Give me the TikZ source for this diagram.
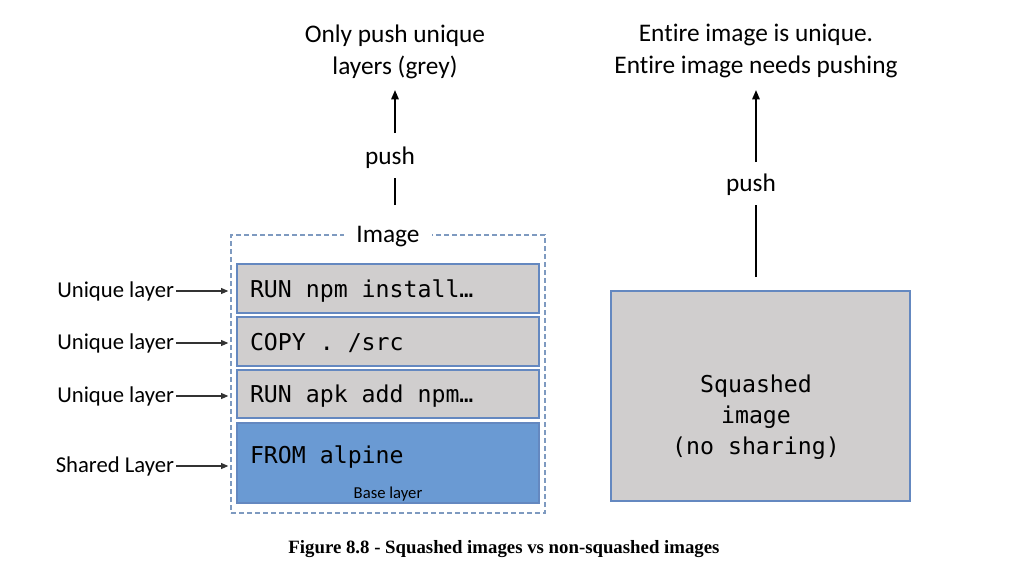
\documentclass[tikz,border=0pt]{standalone}
\usepackage{fontspec}
\setmainfont[Ligatures=NoCommon]{Carlito}
\newfontfamily\codefont[WordSpace={1,0,0}]{DejaVu Sans Mono}
\newfontfamily\capfont{Liberation Serif}
\usetikzlibrary{arrows.meta}
\definecolor{layergrey}{HTML}{D0CECE}
\definecolor{layerblue}{HTML}{6A9AD3}
\definecolor{edgeblue}{HTML}{6488C0}
\definecolor{dashblue}{HTML}{7E9AC0}
\begin{document}
\begin{tikzpicture}[x=0.75pt,y=-0.75pt,
  every node/.style={inner sep=0pt, outer sep=0pt},
  sans/.style={font=\fontsize{19}{24}\selectfont, align=center},
  side/.style={font=\fontsize{17}{20}\selectfont, anchor=east},
  code/.style={font=\codefont\fontsize{17.4}{23.25}\selectfont},
  codeline/.style={code, anchor=base west},
  layer/.style={draw=edgeblue, line width=1.1pt, fill=layergrey,
    minimum width=226.5pt},
  pushline/.style={line width=1.4pt, black},
  pusharrow/.style={pushline, -{Triangle[length=7pt, width=5.5pt]}},
  sidearrow/.style={line width=0.9pt, black!80, -{Triangle[length=5.5pt, width=4.5pt]}}]
\useasboundingbox (0,0) rectangle (1025,586);

% ---- layered image ----
\node[draw=dashblue, dashed, dash pattern=on 3.5pt off 2.5pt, line width=0.9pt,
  minimum width=235.5pt, minimum height=208.5pt] (img) at (388,374) {};
\node[sans, fill=white, inner xsep=9.5pt, inner ysep=2pt] (imglabel) at (388,237) {Image};

\node[layer, minimum height=36.75pt] (l4) at (388,288.5) {};
\node[layer, minimum height=36.75pt] (l3) at (388,341.5) {};
\node[layer, minimum height=36pt] (l2) at (388,394) {};
\node[layer, fill=layerblue, minimum height=60pt] (l1) at (388,463) {};
\node[codeline] (t4) at (250,297) {RUN npm install…};
\node[codeline] (t3) at (250,350) {COPY . /src};
\node[codeline] (t2) at (250,402.5) {RUN apk add npm…};
\node[codeline] (t1) at (250,463) {FROM alpine};
\node[font=\fontsize{12.5}{15}\selectfont, anchor=base] (base) at (388,498) {Base layer};

% ---- labels on the left ----
\node[side] (u4) at (174,291) {Unique layer};
\node[side] (u3) at (174,343) {Unique layer};
\node[side] (u2) at (174,396) {Unique layer};
\node[side] (s1) at (174,466) {Shared Layer};
\foreach \n in {u4,u3,u2,s1}
  \draw[sidearrow] ([xshift=1.5pt]\n.east) -- ([xshift=-2pt]\n.east -| img.west);

% ---- push of the layered image ----
\node[sans] (pushL) at (390,158) {push};
\node[sans] (goalL) at (395,51.5) {Only push unique\\layers (grey)};
\coordinate (pL0) at (395,205);
\coordinate (pL1) at (395,178);
\coordinate (pL2) at (395,133);
\coordinate (pL3) at (395,90);
\draw[pushline] (pL0) -- (pL1);
\draw[pusharrow] (pL2) -- (pL3);

% ---- squashed image ----
\node[draw=edgeblue, line width=1.1pt, fill=layergrey, minimum width=224.25pt,
  minimum height=157.5pt] (sq) at (760.5,396) {};
\node[code, align=center] (sqtext) at (756,417) {Squashed\\image\\(no sharing)};

\node[sans] (pushR) at (751,184.5) {push};
\node[sans] (goalR) at (756,50.5) {Entire image is unique.\\Entire image needs pushing};
\coordinate (pR0) at (756,277);
\coordinate (pR1) at (756,205);
\coordinate (pR2) at (756,162);
\coordinate (pR3) at (756,90);
\draw[pushline] (pR0) -- (pR1);
\draw[pusharrow] (pR2) -- (pR3);

% ---- caption ----
\node[font=\capfont\bfseries\fontsize{14.1}{17}\selectfont] (caption) at (504,549)
  {Figure 8.8 - Squashed images vs non-squashed images};
\end{tikzpicture}
\end{document}
